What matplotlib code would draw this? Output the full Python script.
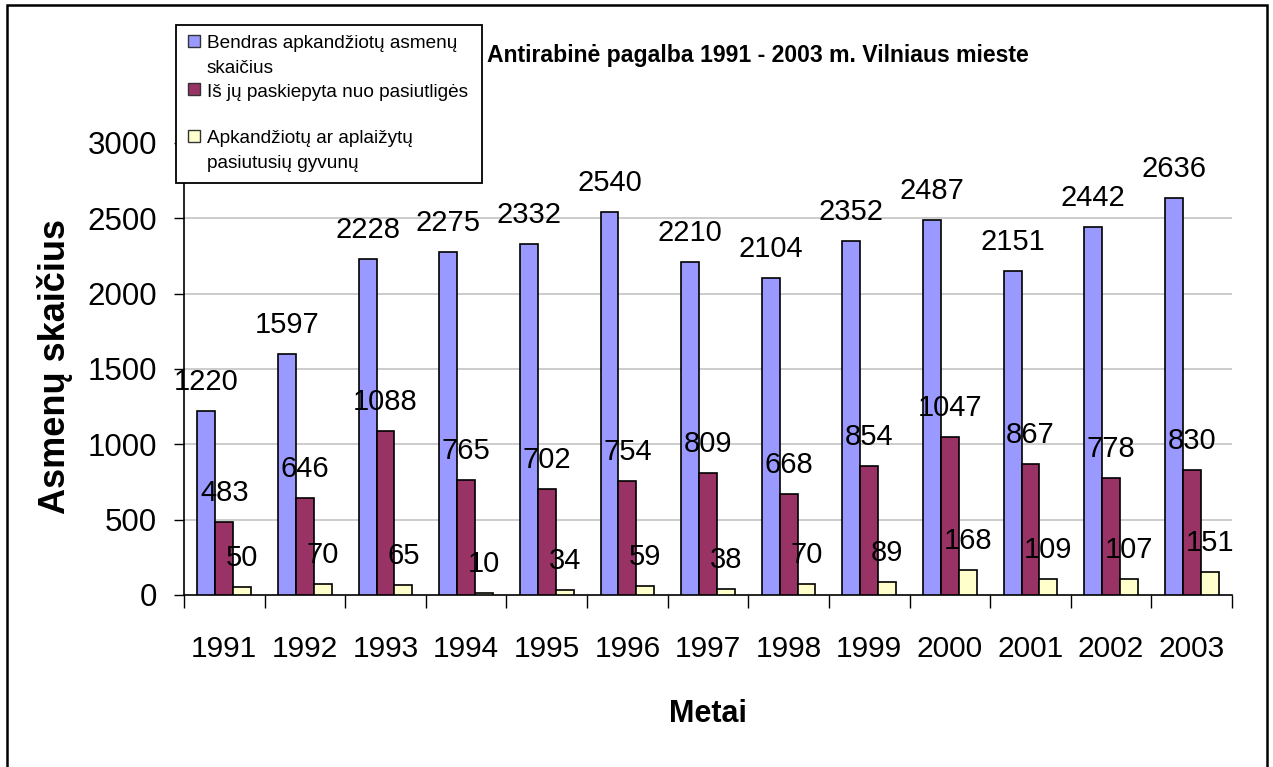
import matplotlib
matplotlib.use("Agg")
import matplotlib.pyplot as plt
from matplotlib.patches import Rectangle
import numpy as np

plt.rcParams['font.family'] = ['Liberation Sans', 'DejaVu Sans']

years = ['1991', '1992', '1993', '1994', '1995', '1996', '1997', '1998',
         '1999', '2000', '2001', '2002', '2003']
total_bitten = [1220, 1597, 2228, 2275, 2332, 2540, 2210, 2104, 2352, 2487, 2151, 2442, 2636]
vaccinated = [483, 646, 1088, 765, 702, 754, 809, 668, 854, 1047, 867, 778, 830]
rabid_animals = [50, 70, 65, 10, 34, 59, 38, 70, 89, 168, 109, 107, 151]

series_labels = ['Bendras apkandžiotų asmenų\nskaičius',
                 'Iš jų paskiepyta nuo pasiutligės',
                 'Apkandžiotų ar aplaižytų\npasiutusių gyvunų']
colors = ['#9999FF', '#993366', '#FFFFCC']
yticks = [0, 500, 1000, 1500, 2000, 2500, 3000]

W, H = 1273, 767
fig = plt.figure(figsize=(W / 100, H / 100), dpi=100)
fig.patch.set_facecolor('white')

def fx(px):
    return px / W

def fy(py):
    return 1 - py / H

ax_l, ax_r, ax_t, ax_b = 184, 1232, 143, 595
ax = fig.add_axes([fx(ax_l), fy(ax_b), (ax_r - ax_l) / W, (ax_b - ax_t) / H])

x = np.arange(len(years))
bw = 1 / 4.5
data = [total_bitten, vaccinated, rabid_animals]
for k, (vals, col) in enumerate(zip(data, colors)):
    xs = x + (k - 1) * bw
    ax.bar(xs, vals, width=bw, color=col, edgecolor='black', linewidth=1.2, zorder=3)
    for xi, v in zip(xs, vals):
        ax.annotate(str(v), (xi, v), xytext=(0, 21), textcoords='offset pixels',
                    ha='center', va='baseline', fontsize=21, zorder=5)

ax.set_xlim(-0.5, len(years) - 0.5)
ax.set_ylim(0, 3000)
ax.set_yticks(yticks)
ax.set_yticklabels([str(t) for t in yticks], fontsize=22.5)
ax.tick_params(axis='y', direction='out', length=7.5, width=1, pad=12)

ax.set_xticks(np.arange(len(years) + 1) - 0.5)
ax.set_xticklabels([])
ax.set_xticks(x, minor=True)
ax.set_xticklabels(years, minor=True, fontsize=21.5)
ax.tick_params(axis='x', which='major', direction='out', length=9, width=1)
ax.tick_params(axis='x', which='minor', length=0, pad=29)

ax.yaxis.grid(True, color='#c8c8c8', linewidth=1.3, zorder=0)
ax.set_axisbelow(True)
gl = ax.get_ygridlines()
gl[0].set_visible(False)
gl[-1].set_visible(False)

for s in ['top', 'right']:
    ax.spines[s].set_visible(False)
ax.spines['left'].set_linewidth(1.2)
ax.spines['bottom'].set_linewidth(1.2)

ax.set_ylabel('Asmenų skaičius', fontsize=26, fontweight='bold', va='center')
ax.yaxis.set_label_coords((55 - ax_l) / (ax_r - ax_l), (ax_b - 367) / (ax_b - ax_t))
ax.set_xlabel('Metai', fontsize=22, fontweight='bold', va='center')
ax.xaxis.set_label_coords(0.5, (ax_b - 714) / (ax_b - ax_t))

# Title
fig.text(fx(487), fy(62), 'Antirabinė pagalba 1991 - 2003 m. Vilniaus mieste',
         fontsize=16.6, fontweight='bold', ha='left', va='baseline')

# Legend box
fig.add_artist(Rectangle((fx(176), fy(183)), (482 - 176) / W, (183 - 25) / H,
                         transform=fig.transFigure, facecolor='white',
                         edgecolor='black', linewidth=1.3, zorder=10))
marker_centers = [40.5, 89, 136]
baselines = [[48, 73], [97], [143, 168]]
for lab, col, mc, bls in zip(series_labels, colors, marker_centers, baselines):
    fig.add_artist(Rectangle((fx(188), fy(mc + 6)), 12 / W, 12 / H,
                             transform=fig.transFigure, facecolor=col,
                             edgecolor='#333333', linewidth=1.0, zorder=11))
    for line, bl in zip(lab.split('\n'), bls):
        fig.text(fx(207), fy(bl), line, fontsize=13.7, ha='left', va='baseline', zorder=12)

# Outer frame
fig.add_artist(Rectangle((fx(7), -0.02), (1267 - 7) / W, fy(5) + 0.02,
                         transform=fig.transFigure, facecolor='none',
                         edgecolor='black', linewidth=1.8, zorder=20))

fig.savefig('out.png', dpi=100, facecolor='white')
